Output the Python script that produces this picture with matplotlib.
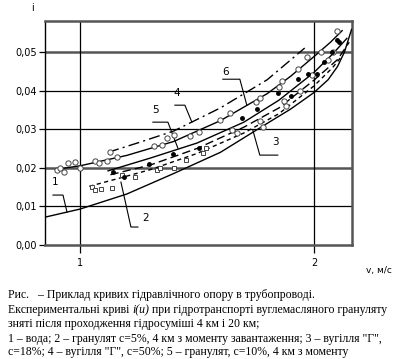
import matplotlib
matplotlib.use("Agg")
import matplotlib.pyplot as plt

# --- data (v in m/s, i dimensionless) ---
v_water = [0.85, 1.0, 1.2, 1.4, 1.6, 1.8, 1.9, 2.0, 2.06, 2.1, 2.13, 2.16]
i_water = [0.0072, 0.0093, 0.0132, 0.0185, 0.024, 0.0315, 0.0352, 0.0395, 0.0428, 0.0462, 0.050, 0.0558]

v_c2 = [1.04, 1.15, 1.3, 1.5, 1.7, 1.85, 2.0, 2.08, 2.12]
i_c2 = [0.0152, 0.0170, 0.0195, 0.0237, 0.029, 0.034, 0.0412, 0.046, 0.049]

v_c3 = [1.13, 1.3, 1.5, 1.7, 1.85, 2.0, 2.1, 2.15]
i_c3 = [0.0182, 0.0207, 0.025, 0.0305, 0.0355, 0.0427, 0.048, 0.0525]

v_c4 = [1.12, 1.25, 1.4, 1.6, 1.8, 1.96]
i_c4 = [0.024, 0.0265, 0.0295, 0.0355, 0.0428, 0.051]

v_c5 = [1.12, 1.3, 1.5, 1.7, 1.85, 2.0, 2.08, 2.14]
i_c5 = [0.0192, 0.0225, 0.0264, 0.0318, 0.0375, 0.0447, 0.0495, 0.0535]

v_c6 = [0.91, 1.0, 1.2, 1.4, 1.6, 1.8, 1.9, 2.0, 2.07, 2.12]
i_c6 = [0.0197, 0.0205, 0.0232, 0.0268, 0.0322, 0.0392, 0.0437, 0.0488, 0.0525, 0.0555]

# measured points
v_circ = [0.90, 0.915, 0.93, 0.95, 0.98, 1.0, 1.065, 1.08, 1.115, 1.13, 1.16, 1.315, 1.35,
          1.37, 1.40, 1.47, 1.51, 1.60, 1.64, 1.75, 1.77, 1.85, 1.865, 1.93, 1.97, 2.03, 2.10]
i_circ = [0.0194, 0.0199, 0.0189, 0.0212, 0.0214, 0.0199, 0.0217, 0.0212, 0.0217, 0.024, 0.0227,
          0.0256, 0.0258, 0.0276, 0.0284, 0.0282, 0.0292, 0.0323, 0.0341, 0.037, 0.038, 0.0408,
          0.0424, 0.0457, 0.0486, 0.0501, 0.0553]

v_circ_lo = [1.65, 1.67, 1.77, 1.78, 1.87, 1.88, 1.94, 1.99, 2.06, 2.08]
i_circ_lo = [0.0297, 0.029, 0.032, 0.0305, 0.0372, 0.036, 0.040, 0.044, 0.048, 0.050]

v_sq = [1.05, 1.065, 1.09, 1.137, 1.18, 1.235, 1.33, 1.34, 1.40, 1.455, 1.525, 1.54]
i_sq = [0.015, 0.0142, 0.0145, 0.0147, 0.018, 0.0176, 0.0194, 0.0199, 0.020, 0.022, 0.0238, 0.025]

v_dot = [1.14, 1.187, 1.294, 1.396, 1.51, 1.69, 1.757, 1.847, 1.90, 1.932, 1.974, 2.013,
         2.043, 2.077, 2.10, 2.105]
i_dot = [0.0189, 0.0176, 0.0209, 0.0235, 0.025, 0.0328, 0.0351, 0.0393, 0.0385, 0.0429, 0.0444,
         0.0444, 0.0475, 0.0499, 0.0532, 0.0525]

y_ticks = [0.0, 0.01, 0.02, 0.03, 0.04, 0.05]
y_labels = ["0,00", "0,01", "0,02", "0,03", "0,04", "0,05"]
x_ticks = [1, 2]
x_labels = ["1", "2"]

caption = [
    [("Рис.   – Приклад кривих гідравлічного опору в трубопроводі.", "normal")],
    [("Експериментальні криві ", "normal"), ("i(u)", "italic"),
     (" при гідротранспорті вуглемасляного грануляту", "normal")],
    [("зняті після проходження гідросуміші 4 км і 20 км;", "normal")],
    [("1 – вода; 2 – гранулят с=5%, 4 км з моменту завантаження; 3 – вугілля \"Г\",", "normal")],
    [("с=18%; 4 – вугілля \"Г\", с=50%; 5 – гранулят, с=10%, 4 км з моменту", "normal")],
]

W, H = 400, 359
fig = plt.figure(figsize=(W / 100, H / 100), dpi=100)
ax = fig.add_axes([45 / W, 1 - 245 / H, (352 - 45) / W, (245 - 21) / H])
ax.set_xlim(0.8506, 2.162)
ax.set_ylim(0, 0.058)


def P(px, py):
    # image pixel -> data coords, for leader lines only
    return 0.8506 + (px - 45) / 234.3, (245 - py) / 3867.0


# grid
for y in y_ticks[1:]:
    if y in (0.02, 0.05):
        ax.axhline(y, color="#555555", lw=1.8, zorder=1)
    else:
        ax.axhline(y, color="black", lw=0.9, zorder=1)
for x in x_ticks:
    ax.axvline(x, color="black", lw=0.9, zorder=1)

for s in ["top", "right", "bottom"]:
    ax.spines[s].set_color("#555555")
    ax.spines[s].set_linewidth(1.8)
ax.spines["left"].set_linewidth(1.0)

ax.set_yticks(y_ticks, y_labels)
ax.set_xticks(x_ticks, x_labels)
ax.tick_params(axis="y", length=4, width=0.9, pad=2, labelsize=7)
ax.tick_params(axis="x", length=6, width=0.9, pad=3, labelsize=7)

lw = 1.0
ax.plot(v_water, i_water, color="black", lw=lw, zorder=3)
ax.plot(v_c2, i_c2, color="black", lw=lw, dashes=(3, 2.5), zorder=3)
ax.plot(v_c3, i_c3, color="black", lw=lw, dashes=(6, 3), zorder=3)
ax.plot(v_c4, i_c4, color="black", lw=lw, dashes=(8, 3, 1.5, 3), zorder=3)
ax.plot(v_c5, i_c5, color="black", lw=lw, zorder=3)
ax.plot(v_c6, i_c6, color="black", lw=lw, zorder=3)

mk = dict(linestyle="none", zorder=4)
ax.plot(v_circ, i_circ, marker="o", ms=3.8, mfc="white", mec="#444444", mew=0.7, **mk)
ax.plot(v_circ_lo, i_circ_lo, marker="o", ms=3.8, mfc="white", mec="#444444", mew=0.7, **mk)
ax.plot(v_sq, i_sq, marker="s", ms=3.3, mfc="white", mec="#444444", mew=0.7, **mk)
ax.plot(v_dot, i_dot, marker="o", ms=2.5, color="black", **mk)

# curve labels with leader lines
labels = [
    ("1", (55, 182), [(53, 195), (63, 195), (67, 212)]),
    ("2", (146, 218), [(138, 227), (131, 227), (121, 182)]),
    ("3", (276, 142), [(278, 155), (260, 155), (253, 130)]),
    ("4", (177, 93), [(175, 105), (185, 105), (192, 122)]),
    ("5", (156, 110), [(153, 122), (168, 122), (178, 148)]),
    ("6", (226, 72), [(223, 79), (240, 79), (247, 105)]),
]
for txt, (tx, ty), pts in labels:
    xs, ys = zip(*[P(px, py) for px, py in pts])
    ax.plot(xs, ys, color="black", lw=0.8, zorder=2)
    ax.text(*P(tx, ty), txt, fontsize=7.5, ha="center", va="center", zorder=5)

fig.text(32 / W, 1 - 8 / H, "i", fontsize=7, ha="center", va="center")
fig.text(392 / W, 1 - 271 / H, "v, м/с", fontsize=6.5, ha="right", va="center")

# caption, fitted so the widest line ends near x=392
serif = "Liberation Serif"
line_y = [295, 310, 324, 339, 352]
r = fig.canvas.get_renderer()


def draw_caption(fs):
    texts = []
    right = 0
    for parts, y in zip(caption, line_y):
        x = 8
        for s, style in parts:
            t = fig.text(x / W, 1 - y / H, s, fontsize=fs, family=serif, style=style, va="center")
            texts.append(t)
            x = t.get_window_extent(r).x1
        right = max(right, x)
    return texts, right


fs = 10
for _ in range(3):
    texts, right = draw_caption(fs)
    for t in texts:
        t.remove()
    fs = fs * (390 - 8) / (right - 8)
draw_caption(fs)

fig.savefig("out.png", dpi=100)
